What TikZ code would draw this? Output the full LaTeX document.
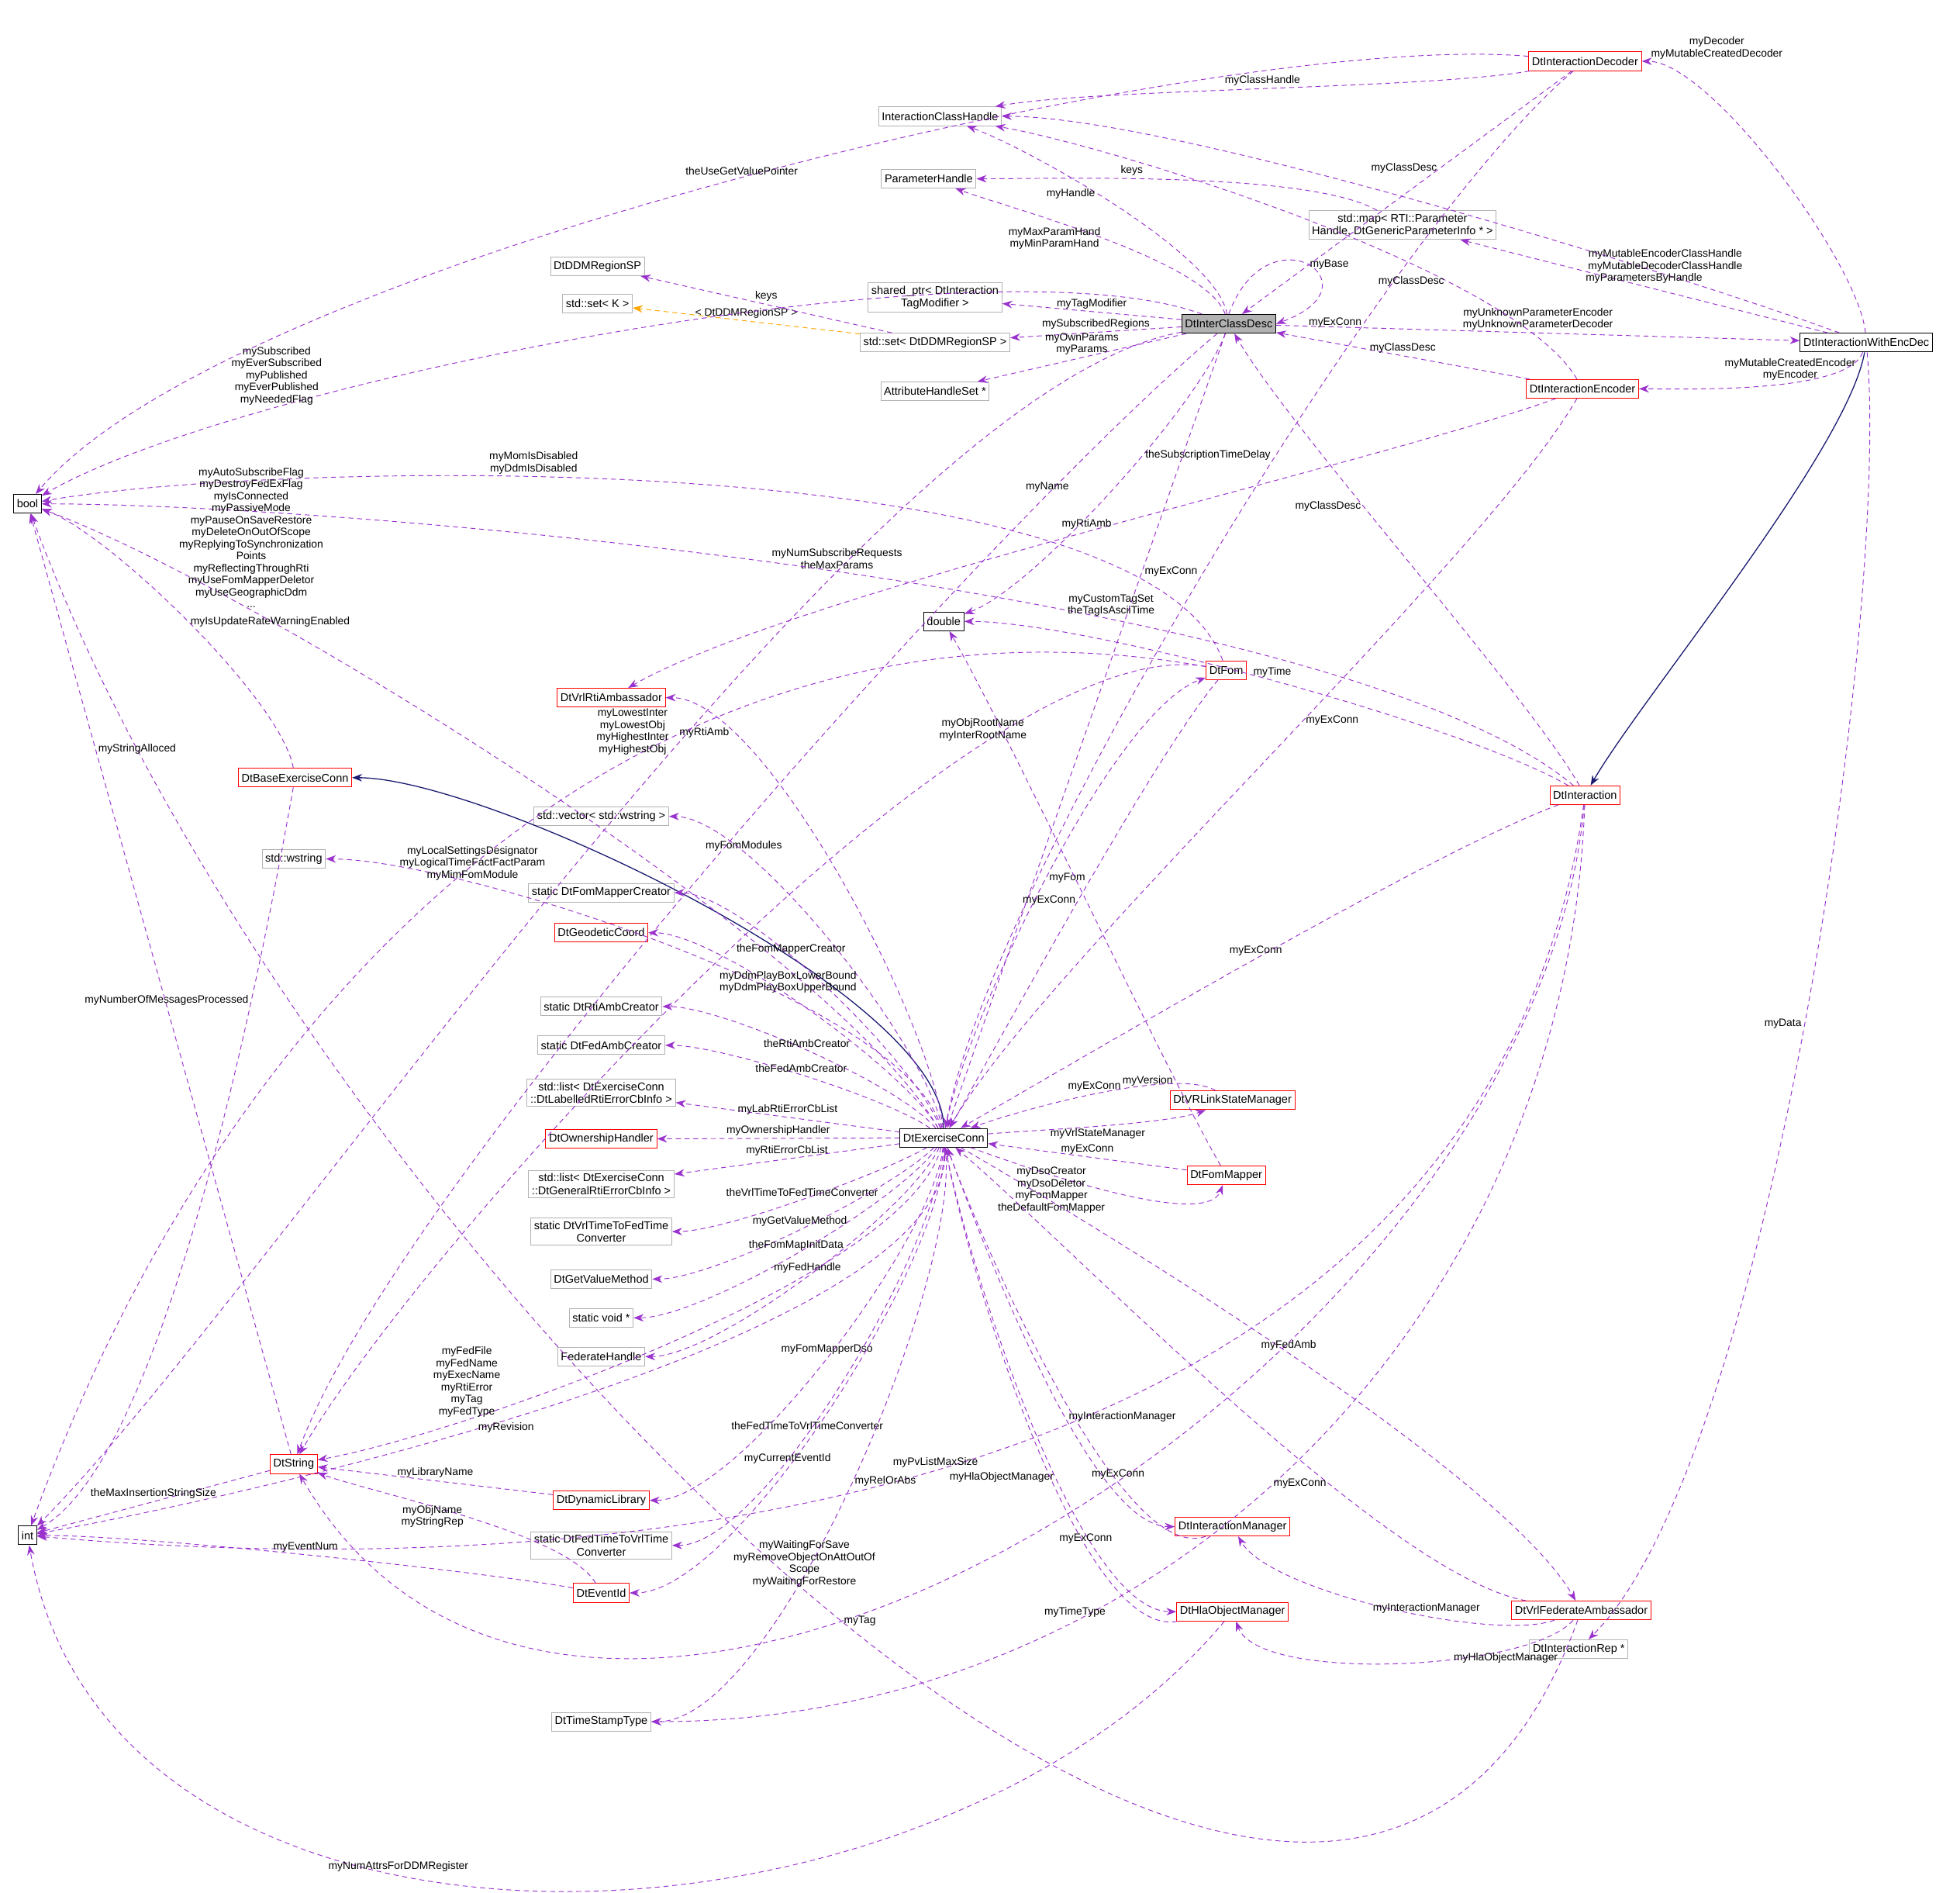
\documentclass[tikz,border=0pt]{standalone}
\usepackage{fontspec}
\setmainfont{Liberation Sans}
\usetikzlibrary{arrows.meta}
\usetikzlibrary{shapes}
\definecolor{relcol}{HTML}{9A32CD}
\definecolor{inhcol}{HTML}{191970}
\definecolor{tplcol}{HTML}{FFA500}
\tikzset{
  cls/.style={draw, rectangle, inner sep=1.3pt, minimum height=7.5pt, align=center, line width=0.3pt, font=\fontsize{4.5}{5}\selectfont},
  ext/.style={cls, draw=gray!60},
  red/.style={cls, draw=red},
  blk/.style={cls, draw=black},
  edge/.style={draw=relcol, line width=0.3pt, dash pattern=on 2pt off 1.5pt, -{Stealth[length=4pt,width=3pt]}, looseness=0.5},
  inh/.style={draw=inhcol, line width=0.4pt, -{Stealth[length=4pt,width=3pt]}},
  tpl/.style={draw=tplcol, line width=0.3pt, dash pattern=on 2pt off 1.5pt, -{Stealth[length=4pt,width=3pt]}},
  lbl/.style={font=\fontsize{4.3}{4.8}\selectfont, align=center, fill=none, text=black, inner sep=1pt}
}
\begin{document}
\begin{tikzpicture}[x=0.5pt, y=-0.5pt]
    \useasboundingbox (0,0) rectangle (1568,1514);

    % Declare the classes
    \node[blk] at (22, 403) (bool) {bool};
    \node[blk] at (22, 1228) (int) {int};
    \node[blk] at (755, 497) (double) {double};
    \node[blk, fill=gray!60] at (983, 259) (ICD) {DtInterClassDesc};
    \node[ext] at (752, 93) (ICH) {InteractionClassHandle};
    \node[ext] at (743, 143) (PH) {ParameterHandle};
    \node[ext] at (478, 213) (RegSP) {DtDDMRegionSP};
    \node[ext] at (478, 243) (SetK) {std::set< K >};
    \node[ext] at (748, 238) (TagMod) {shared\_ptr< DtInteraction\\TagModifier >};
    \node[ext] at (748, 274) (SetReg) {std::set< DtDDMRegionSP >};
    \node[ext] at (748, 313) (AHS) {AttributeHandleSet *};
    \node[ext] at (1122, 180) (PMap) {std::map< RTI::Parameter\\Handle, DtGenericParameterInfo * >};
    \node[red] at (1268, 49) (Dec) {DtInteractionDecoder};
    \node[blk] at (1493, 274) (WED) {DtInteractionWithEncDec};
    \node[red] at (1266, 311) (Enc) {DtInteractionEncoder};
    \node[red] at (1268, 636) (Inter) {DtInteraction};
    \node[red] at (981, 536) (Fom) {DtFom};
    \node[red] at (489, 558) (RtiAmb) {DtVrlRtiAmbassador};
    \node[red] at (236, 622) (Base) {DtBaseExerciseConn};
    \node[ext] at (481, 653) (WVec) {std::vector< std::wstring >};
    \node[ext] at (235, 687) (WStr) {std::wstring};
    \node[ext] at (481, 714) (FMC) {static DtFomMapperCreator};
    \node[red] at (481, 746) (Geo) {DtGeodeticCoord};
    \node[ext] at (481, 805) (RAC) {static DtRtiAmbCreator};
    \node[ext] at (481, 836) (FAC) {static DtFedAmbCreator};
    \node[ext] at (481, 874) (LabList) {std::list< DtExerciseConn\\::DtLabelledRtiErrorCbInfo >};
    \node[red] at (481, 911) (Own) {DtOwnershipHandler};
    \node[ext] at (481, 947) (GenList) {std::list< DtExerciseConn\\::DtGeneralRtiErrorCbInfo >};
    \node[ext] at (481, 985) (V2F) {static DtVrlTimeToFedTime\\Converter};
    \node[ext] at (481, 1023) (GVM) {DtGetValueMethod};
    \node[ext] at (481, 1054) (SVoid) {static void *};
    \node[ext] at (481, 1085) (FedH) {FederateHandle};
    \node[blk] at (755, 910) (EC) {DtExerciseConn};
    \node[red] at (986, 880) (StateMgr) {DtVRLinkStateManager};
    \node[red] at (981, 940) (FomMap) {DtFomMapper};
    \node[red] at (235, 1171) (Str) {DtString};
    \node[red] at (481, 1200) (DynLib) {DtDynamicLibrary};
    \node[ext] at (481, 1236) (F2V) {static DtFedTimeToVrlTime\\Converter};
    \node[red] at (481, 1274) (EvId) {DtEventId};
    \node[red] at (986, 1221) (IMgr) {DtInteractionManager};
    \node[red] at (986, 1289) (HMgr) {DtHlaObjectManager};
    \node[red] at (1265, 1288) (FedAmb) {DtVrlFederateAmbassador};
    \node[ext] at (1263, 1319) (IRep) {DtInteractionRep *};
    \node[ext] at (481, 1377) (TST) {DtTimeStampType};

    % Declare inheritance edges
    \draw[inh] (WED) to[out=-100, in=60, looseness=0.5] (Inter);
    \draw[inh] (EC) to[out=90, in=0, looseness=0.5] (Base);
    \draw[tpl] (SetReg) -- (SetK) node[lbl, midway, above] {< DtDDMRegionSP >};

    % Declare edges of DtInterClassDesc
    \draw[edge] (ICD) to[out=100, in=-20] node[lbl, pos=0.55, left] {myHandle} (ICH);
    \draw[edge] (ICD) to[out=110, in=-20] node[lbl, pos=0.5, left] {myMaxParamHand\\myMinParamHand} (PH);
    \draw[edge] (ICD) to[out=160, in=30] node[lbl, pos=0.75, above] {mySubscribed\\myEverSubscribed\\myPublished\\myEverPublished\\myNeededFlag} (bool);
    \draw[edge] (ICD) -- (TagMod) node[lbl, midway, above] {myTagModifier};
    \draw[edge] (ICD) -- (SetReg) node[lbl, midway, above] {mySubscribedRegions};
    \draw[edge] (ICD) -- (AHS) node[lbl, midway, above] {myOwnParams\\myParams};
    \draw[edge] (ICD) to[out=190, in=45] node[lbl, pos=0.3, above] {myNumSubscribeRequests\\theMaxParams} (int);
    \draw[edge] (ICD) to[out=250, in=20] node[lbl, pos=0.4, right] {theSubscriptionTimeDelay} (double);
    \draw[edge] (ICD.north) to[out=70, in=20, looseness=6] node[lbl, right] {myBase} (ICD.east);
    \draw[edge] (ICD) -- (EC) node[lbl, pos=0.3, right] {myExConn};
    \draw[edge] (ICD) to[out=220, in=70] node[lbl, pos=0.2, above] {myName} (Str);
    \draw[edge] (ICD) -- (WED) node[lbl, midway, above] {myUnknownParameterEncoder\\myUnknownParameterDecoder};
    \draw[edge] (SetReg) -- (RegSP) node[lbl, midway, above] {keys};
    \draw[edge] (PMap) to[out=150, in=0] node[lbl, pos=0.6, above] {keys} (PH);

    % Declare edges of the decoder and encoder
    \draw[edge] (Dec) to[out=175, in=50] node[lbl, pos=0.5, above] {theUseGetValuePointer} (bool);
    \draw[edge] (Dec) to[out=190, in=10] node[lbl, midway, above] {myClassHandle} (ICH);
    \draw[edge] (Dec) -- (ICD) node[lbl, pos=0.4, left] {myClassDesc};
    \draw[edge] (Dec) to[out=220, in=80] node[lbl, pos=0.3, left] {myExConn} (EC);
    \draw[edge] (Enc) -- (ICD) node[lbl, midway, above] {myClassDesc};
    \draw[edge] (Enc) to[out=120, in=-10] node[lbl, pos=0.3, left] {myClassDesc} (ICH);
    \draw[edge] (Enc) to[out=200, in=30] node[lbl, pos=0.5, above] {myRtiAmb} (RtiAmb);
    \draw[edge] (Enc) to[out=240, in=60] node[lbl, pos=0.45, right] {myExConn} (EC);

    % Declare edges of DtInteractionWithEncDec
    \draw[edge] (WED) to[out=95, in=0] node[lbl, pos=0.97, above right] {myDecoder\\myMutableCreatedDecoder} (Dec);
    \draw[edge] (WED) to[out=160, in=0] node[lbl, pos=0.25, above] {myMutableEncoderClassHandle\\myMutableDecoderClassHandle} (ICH);
    \draw[edge] (WED) -- (PMap) node[lbl, midway, above] {myParametersByHandle};
    \draw[edge] (WED) to[out=250, in=0] node[lbl, pos=0.4, above] {myMutableCreatedEncoder\\myEncoder} (Enc);
    \draw[edge] (WED) to[out=275, in=45] node[lbl, pos=0.5, left] {myData} (IRep);

    % Declare edges of DtInteraction
    \draw[edge] (Inter) to[out=120, in=-60] node[lbl, pos=0.6, left] {myClassDesc} (ICD);
    \draw[edge] (Inter) to[out=140, in=0] node[lbl, pos=0.35, above] {myCustomTagSet\\theTagIsAsciiTime} (bool);
    \draw[edge] (Inter) to[out=150, in=0] node[lbl, pos=0.5, above] {myTime} (double);
    \draw[edge] (Inter) to[out=200, in=30] node[lbl, midway, above] {myExConn} (EC);
    \draw[edge] (Inter) to[out=265, in=-60, looseness=1] node[lbl, pos=0.6, below] {myTag} (Str);
    \draw[edge] (Inter) to[out=268, in=0, looseness=1] node[lbl, pos=0.7, above] {myTimeType} (TST);
    \draw[edge] (Inter) to[out=262, in=-5, looseness=1] node[lbl, pos=0.55, above] {myPvListMaxSize} (int);

    % Declare edges of DtForm
    \draw[edge] (Fom) to[out=110, in=10] node[lbl, pos=0.6, above] {myMomIsDisabled\\myDdmIsDisabled} (bool);
    \draw[edge] (Fom) to[out=170, in=70, looseness=1] node[lbl, pos=0.38, above] {myLowestInter\\myLowestObj\\myHighestInter\\myHighestObj} (int);
    \draw[edge] (Fom) to[out=170, in=60] node[lbl, pos=0.25, above] {myObjRootName\\myInterRootName} (Str);
    \draw[edge] (Fom) to[out=230, in=60] node[lbl, pos=0.5, left] {myExConn} (EC);

    % Declare edges of DtExerciseConn
    \draw[edge] (EC) to[out=120, in=-20] node[lbl, pos=0.75, above] {myAutoSubscribeFlag\\myDestroyFedExFlag\\myIsConnected\\myPassiveMode\\myPauseOnSaveRestore\\myDeleteOnOutOfScope\\myReplyingToSynchronization\\Points\\myReflectingThroughRti\\myUseFomMapperDeletor\\myUseGeographicDdm\\...} (bool);
    \draw[edge] (EC) to[out=95, in=0] node[lbl, pos=0.8, left] {myRtiAmb} (RtiAmb);
    \draw[edge] (EC) to[out=80, in=200] node[lbl, pos=0.5, right] {myFom} (Fom);
    \draw[edge] (EC) to[out=100, in=0] node[lbl, pos=0.75, above] {myFomModules} (WVec);
    \draw[edge] (EC) to[out=105, in=0] node[lbl, pos=0.75, above] {myLocalSettingsDesignator\\myLogicalTimeFactFactParam\\myMimFomModule} (WStr);
    \draw[edge] (EC) to[out=110, in=0] node[lbl, pos=0.6, above] {theFomMapperCreator} (FMC);
    \draw[edge] (EC) to[out=120, in=0] node[lbl, pos=0.55, above] {myDdmPlayBoxLowerBound\\myDdmPlayBoxUpperBound} (Geo);
    \draw[edge] (EC) to[out=130, in=0] node[lbl, pos=0.5, above] {theRtiAmbCreator} (RAC);
    \draw[edge] (EC) to[out=145, in=0] node[lbl, pos=0.5, above] {theFedAmbCreator} (FAC);
    \draw[edge] (EC) -- (LabList) node[lbl, midway, above] {myLabRtiErrorCbList};
    \draw[edge] (EC) -- (Own) node[lbl, midway, above] {myOwnershipHandler};
    \draw[edge] (EC) -- (GenList) node[lbl, midway, above] {myRtiErrorCbList};
    \draw[edge] (EC) to[out=210, in=0] node[lbl, pos=0.5, above] {theVrlTimeToFedTimeConverter} (V2F);
    \draw[edge] (EC) to[out=225, in=0] node[lbl, pos=0.5, above] {myGetValueMethod} (GVM);
    \draw[edge] (EC) to[out=235, in=0] node[lbl, pos=0.5, above] {theFomMapInitData} (SVoid);
    \draw[edge] (EC) to[out=245, in=0] node[lbl, pos=0.5, above] {myFedHandle} (FedH);
    \draw[edge] (EC) to[out=255, in=10] node[lbl, pos=0.75, above] {myFedFile\\myFedName\\myExecName\\myRtiError\\myTag\\myFedType} (Str);
    \draw[edge] (EC) to[out=265, in=0] node[lbl, pos=0.5, above] {myFomMapperDso} (DynLib);
    \draw[edge] (EC) to[out=268, in=0] node[lbl, pos=0.6, above] {theFedTimeToVrlTimeConverter} (F2V);
    \draw[edge] (EC) to[out=272, in=0] node[lbl, pos=0.6, above] {myCurrentEventId} (EvId);
    \draw[edge] (EC) to[out=275, in=10] node[lbl, pos=0.55, below] {myRevision} (int);
    \draw[edge] (EC) to[out=278, in=0] node[lbl, pos=0.5, right] {myRelOrAbs} (TST);
    \draw[edge] (EC) to[out=5, in=200] node[lbl, pos=0.5, below] {myVrlStateManager} (StateMgr);
    \draw[edge] (EC) to[out=-20, in=250] node[lbl, pos=0.5, left] {myDsoCreator\\myDsoDeletor\\myFomMapper\\theDefaultFomMapper} (FomMap);
    \draw[edge] (EC) to[out=-70, in=180] node[lbl, pos=0.6, right] {myInteractionManager} (IMgr);
    \draw[edge] (EC) to[out=-80, in=180] node[lbl, pos=0.6, left] {myHlaObjectManager} (HMgr);
    \draw[edge] (EC) to[out=-30, in=120] node[lbl, pos=0.5, above] {myFedAmb} (FedAmb);

    % Declare edges of the managers
    \draw[edge] (StateMgr) to[out=150, in=20] node[lbl, pos=0.5, above] {myExConn} (EC);
    \draw[edge] (FomMap) -- (EC) node[lbl, midway, above] {myExConn};
    \draw[edge] (FomMap) to[out=120, in=-60] node[lbl, pos=0.2, left] {myVersion} (double);
    \draw[edge] (IMgr) to[out=200, in=-70] node[lbl, pos=0.3, above] {myExConn} (EC);
    \draw[edge] (HMgr) to[out=190, in=-80] node[lbl, pos=0.3, above] {myExConn} (EC);
    \draw[edge] (HMgr) to[out=230, in=-80, looseness=1] node[lbl, pos=0.6, above] {myNumAttrsForDDMRegister} (int);
    \draw[edge] (FedAmb) to[out=200, in=-60] node[lbl, pos=0.4, above] {myInteractionManager} (IMgr);
    \draw[edge] (FedAmb) to[out=230, in=-70] node[lbl, pos=0.25, below] {myHlaObjectManager} (HMgr);
    \draw[edge] (FedAmb) to[out=170, in=-40] node[lbl, pos=0.35, left] {myExConn} (EC);
    \draw[edge] (FedAmb) to[out=250, in=-70, looseness=1] node[lbl, pos=0.5, above] {myWaitingForSave\\myRemoveObjectOnAttOutOf\\Scope\\myWaitingForRestore} (bool);

    % Declare edges of the small classes
    \draw[edge] (Base) to[out=100, in=-20] node[lbl, pos=0.5, right] {myIsUpdateRateWarningEnabled} (bool);
    \draw[edge] (Base) to[out=260, in=30] node[lbl, pos=0.3, left] {myNumberOfMessagesProcessed} (int);
    \draw[edge] (Str) -- (bool) node[lbl, pos=0.75, right] {myStringAlloced};
    \draw[edge] (Str) -- (int) node[lbl, midway, above] {theMaxInsertionStringSize};
    \draw[edge] (DynLib) -- (Str) node[lbl, midway, above] {myLibraryName};
    \draw[edge] (EvId) to[out=120, in=-20] node[lbl, pos=0.5, left] {myObjName\\myStringRep} (Str);
    \draw[edge] (EvId) to[out=170, in=0] node[lbl, midway, above] {myEventNum} (int);

\end{tikzpicture}
\end{document}
